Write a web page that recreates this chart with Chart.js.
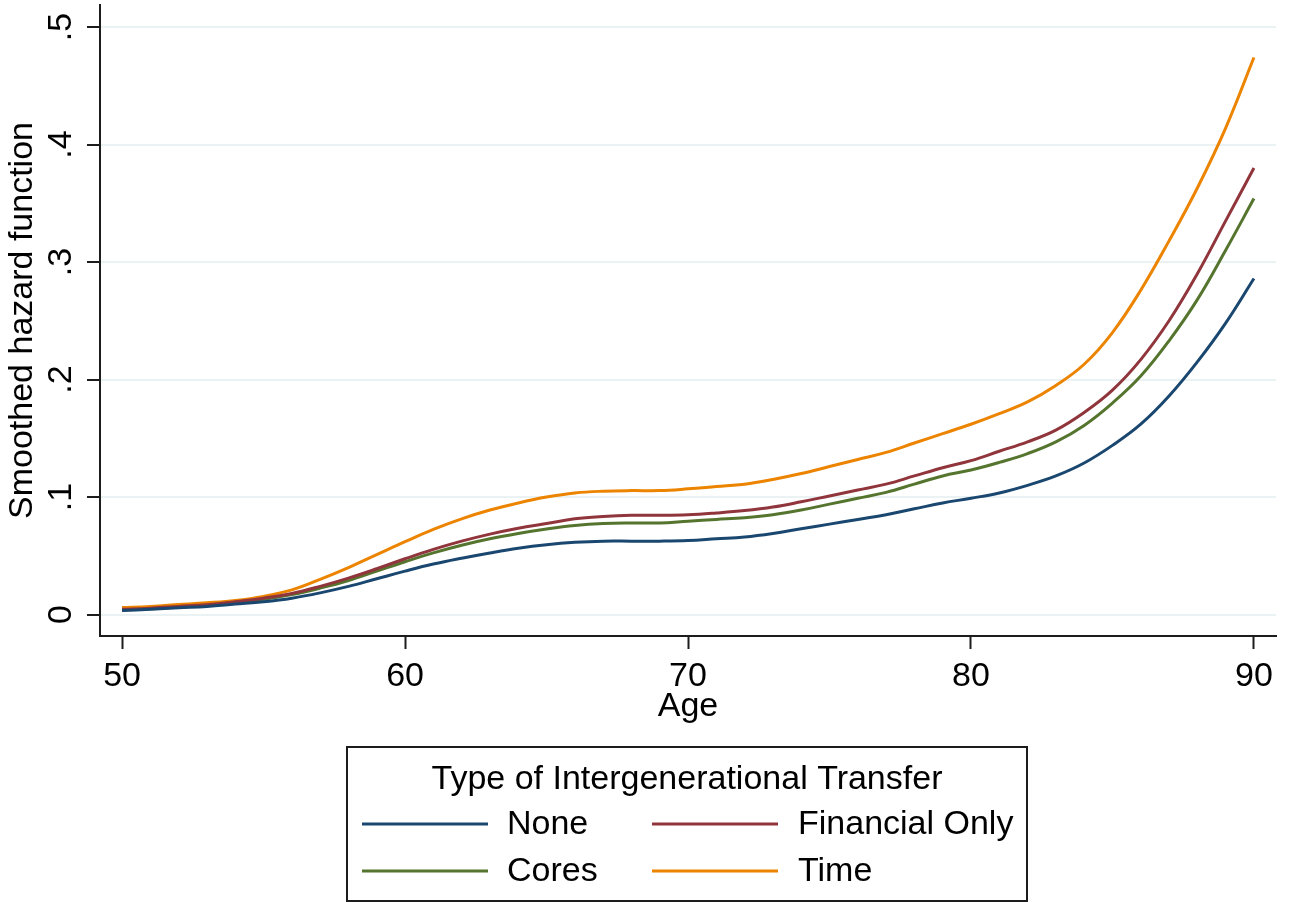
<!DOCTYPE html>
<html>
<head>
<meta charset="utf-8">
<title>Smoothed hazard function by type of intergenerational transfer</title>
<script src="https://cdn.jsdelivr.net/npm/chart.js@4/dist/chart.umd.min.js"></script>
<style>
  html, body { margin: 0; padding: 0; background: #ffffff; }
  #wrap { width: 1290px; height: 902px; position: relative; }
  canvas { display: block; }
</style>
</head>
<body>
<div id="wrap"><canvas id="hazard" width="1290" height="902"></canvas></div>
<script>
// Age grid (years)
const ages = [50,51,52,53,54,55,56,57,58,59,60,61,62,63,64,65,66,67,68,69,70,
              71,72,73,74,75,76,77,78,79,80,81,82,83,84,85,86,87,88,89,90];

// Smoothed hazard estimates per transfer type
const noneHazard = [0.0035,0.0045,0.0058,0.007,0.009,0.011,0.014,0.0185,0.024,0.0305,0.037,
                    0.043,0.048,0.0525,0.0565,0.0595,0.0615,0.0625,0.0625,0.0625,0.063,
                    0.0645,0.066,0.069,0.073,0.077,0.081,0.085,0.090,0.095,0.099,
                    0.1035,0.110,0.118,0.129,0.144,0.162,0.186,0.215,0.248,0.286];
const financialHazard = [0.0045,0.0055,0.007,0.0085,0.011,0.014,0.018,0.024,0.031,0.039,0.0475,
                         0.0555,0.0625,0.0685,0.0735,0.0775,0.0815,0.0835,0.0845,0.0845,0.085,
                         0.0865,0.0885,0.0915,0.096,0.101,0.106,0.111,0.118,0.125,0.131,
                         0.139,0.147,0.157,0.172,0.191,0.217,0.250,0.290,0.335,0.380];
const coresHazard = [0.004,0.005,0.0065,0.008,0.0105,0.013,0.017,0.0225,0.029,0.037,0.045,
                     0.0525,0.059,0.0645,0.069,0.0728,0.0758,0.0775,0.078,0.078,0.0795,
                     0.081,0.0825,0.085,0.089,0.094,0.099,0.104,0.111,0.118,0.123,
                     0.1295,0.137,0.147,0.161,0.180,0.203,0.233,0.268,0.310,0.354];
const timeHazard = [0.006,0.007,0.0085,0.010,0.012,0.0155,0.021,0.030,0.040,0.051,0.062,
                    0.0725,0.0815,0.089,0.095,0.100,0.1035,0.105,0.1055,0.1055,0.107,
                    0.109,0.111,0.115,0.120,0.126,0.132,0.138,0.146,0.154,0.162,
                    0.171,0.181,0.195,0.213,0.240,0.276,0.318,0.363,0.414,0.474];

const seriesNames = ['None', 'Financial Only', 'Cores', 'Time'];
const seriesColors = ['#1a476f', '#90353b', '#55752f', '#ec8400'];

const xTicks = [50, 60, 70, 80, 90];
const yTicks = [0, 0.1, 0.2, 0.3, 0.4, 0.5];

const xTitle = 'Age';
const yTitle = 'Smoothed hazard function';
const legendTitle = 'Type of Intergenerational Transfer';

const FONT = '"Liberation Sans", Arial, Helvetica, sans-serif';
const FONT_SIZE = 34;

const seriesValues = [noneHazard, financialHazard, coresHazard, timeHazard];
const datasets = seriesNames.map((name, i) => ({
  label: name,
  data: ages.map((a, j) => ({ x: a, y: seriesValues[i][j] })),
  borderColor: seriesColors[i],
  backgroundColor: seriesColors[i],
  borderWidth: 3,
  pointRadius: 0,
  tension: 0.4,
  fill: false
}));

// Boxed two-column key drawn under the plot
const boxedKey = {
  id: 'boxedKey',
  afterDraw(chart) {
    const ctx = chart.ctx;
    const box = { x: 347, y: 747, w: 680, h: 154 };
    const rows = [825, 872];
    const cols = [{ l0: 362, l1: 488, t: 507 }, { l0: 652, l1: 778, t: 798 }];
    ctx.save();
    ctx.strokeStyle = '#1c1c1c';
    ctx.lineWidth = 2;
    ctx.strokeRect(box.x, box.y, box.w, box.h);
    ctx.fillStyle = '#000000';
    ctx.font = FONT_SIZE + 'px ' + FONT;
    ctx.textBaseline = 'middle';
    ctx.textAlign = 'center';
    ctx.fillText(legendTitle, box.x + box.w / 2, 780);
    ctx.textAlign = 'left';
    chart.data.datasets.forEach((ds, i) => {
      const r = rows[Math.floor(i / 2)];
      const c = cols[i % 2];
      ctx.strokeStyle = ds.borderColor;
      ctx.lineWidth = 3;
      ctx.beginPath();
      ctx.moveTo(c.l0, r - 1);
      ctx.lineTo(c.l1, r - 1);
      ctx.stroke();
      ctx.fillStyle = '#000000';
      ctx.fillText(ds.label, c.t, r);
    });
    ctx.restore();
  }
};

new Chart(document.getElementById('hazard'), {
  type: 'line',
  data: { datasets },
  plugins: [boxedKey],
  options: {
    responsive: false,
    animation: false,
    devicePixelRatio: 1,
    layout: { padding: { left: 0, top: 5, right: 14, bottom: 166 } },
    plugins: {
      legend: { display: false },
      tooltip: { enabled: false }
    },
    scales: {
      x: {
        type: 'linear',
        min: 49.22,
        max: 90.78,
        afterBuildTicks: (s) => { s.ticks = xTicks.map(v => ({ value: v })); },
        afterFit: (s) => { s.height = 100; s.paddingLeft = 0; s.paddingRight = 0; },
        ticks: {
          color: '#000000',
          font: { family: FONT, size: FONT_SIZE },
          padding: 7,
          maxRotation: 0,
          autoSkip: false,
          callback: (v) => String(v)
        },
        grid: {
          drawOnChartArea: false,
          drawTicks: true,
          tickLength: 13,
          tickWidth: 2,
          tickColor: '#1c1c1c'
        },
        border: { display: true, color: '#1c1c1c', width: 2 },
        title: {
          display: true,
          text: xTitle,
          color: '#000000',
          font: { family: FONT, size: FONT_SIZE },
          padding: { top: 0, bottom: 9 }
        }
      },
      y: {
        type: 'linear',
        min: -0.0182,
        max: 0.5187,
        afterBuildTicks: (s) => { s.ticks = yTicks.map(v => ({ value: v })); },
        afterFit: (s) => { s.width = 100; s.paddingTop = 0; s.paddingBottom = 0; },
        ticks: {
          color: '#000000',
          font: { family: FONT, size: FONT_SIZE },
          padding: 11,
          minRotation: 90,
          maxRotation: 90,
          crossAlign: 'center',
          autoSkip: false,
          callback: (v) => v === 0 ? '0' : v.toFixed(1).replace(/^0/, '')
        },
        grid: {
          color: '#eaf2f3',
          lineWidth: 2,
          drawTicks: true,
          tickLength: 13,
          tickWidth: 2,
          tickColor: '#1c1c1c'
        },
        border: { display: true, color: '#1c1c1c', width: 2 },
        title: {
          display: true,
          text: yTitle,
          color: '#000000',
          font: { family: FONT, size: FONT_SIZE },
          padding: { top: 2, bottom: 0 }
        }
      }
    }
  }
});
</script>
</body>
</html>
